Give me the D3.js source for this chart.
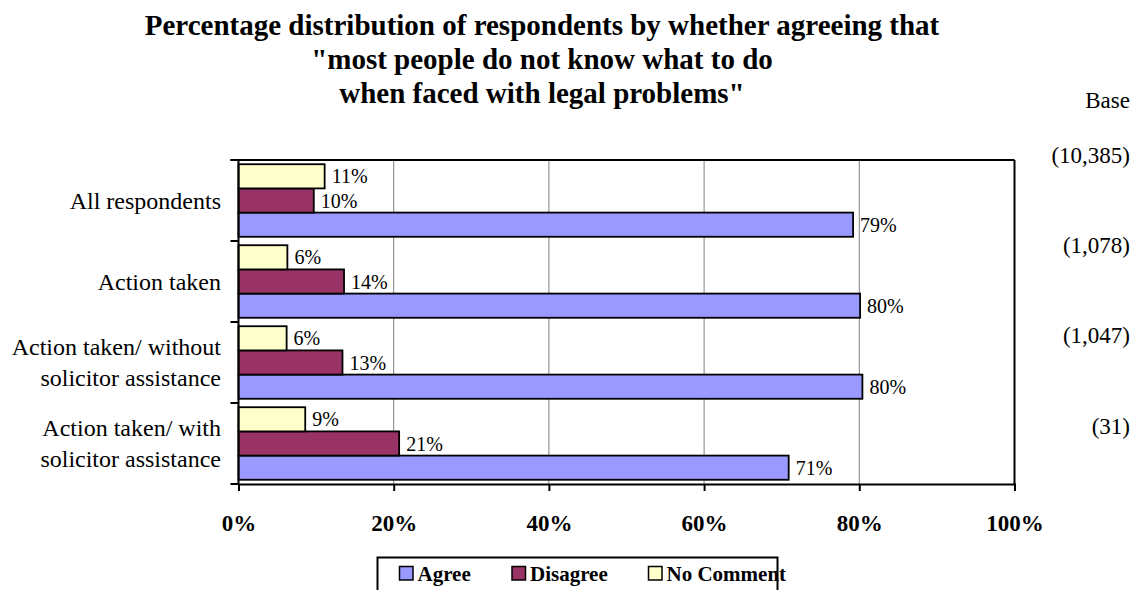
<!DOCTYPE html>
<html>
<head>
<meta charset="utf-8">
<script src="https://cdn.jsdelivr.net/npm/d3@7"></script>
<style>
  html, body { margin: 0; padding: 0; background: #fff; }
  svg { display: block; font-family: "Liberation Serif", "Times New Roman", serif; }
</style>
</head>
<body>
<svg id="chart" width="1138" height="590"></svg>
<script>
// ---- data ----
const categories = ["All respondents", "Action taken", "Action taken/ without solicitor assistance", "Action taken/ with solicitor assistance"];
const categoryLines = [["All respondents"], ["Action taken"], ["Action taken/ without", "solicitor assistance"], ["Action taken/ with", "solicitor assistance"]];
const seriesNames = ["Agree", "Disagree", "No Comment"];
const agree = [79.2, 80.1, 80.4, 70.9];
const disagree = [9.7, 13.6, 13.4, 20.7];
const noComment = [11.1, 6.3, 6.2, 8.6];
const bases = ["(10,385)", "(1,078)", "(1,047)", "(31)"];
const xTicks = [0, 20, 40, 60, 80, 100];
const titleLines = ["Percentage distribution of respondents by whether agreeing that", "\"most people do not know what to do", "when faced with legal problems\""];

const seriesValues = { "Agree": agree, "Disagree": disagree, "No Comment": noComment };
const colors = { "Agree": "#9999FF", "Disagree": "#993366", "No Comment": "#FFFFCC" };

// ---- layout ----
const svg = d3.select("#chart");
const pLeft = 238.5, pRight = 1014.5, pTop = 160, pBottom = 484;

const x = d3.scaleLinear().domain([0, 100]).range([pLeft, pRight]);
const y = d3.scaleBand().domain(categories).range([pTop, pBottom]).padding(0);
const inner = d3.scaleBand().domain(["No Comment", "Disagree", "Agree"])
  .range([0, y.bandwidth()]).paddingOuter(0.175).paddingInner(0);

// title
svg.append("g").selectAll("text").data(titleLines).join("text")
  .attr("x", 542).attr("y", (d, i) => 25 + i * 34)
  .attr("text-anchor", "middle").attr("dominant-baseline", "central")
  .attr("font-size", 29).attr("font-weight", "bold").text(d => d);

// Base header
svg.append("text").attr("x", 1130).attr("y", 100)
  .attr("text-anchor", "end").attr("dominant-baseline", "central")
  .attr("font-size", 23).text("Base");

const baseY = d3.scalePoint().domain(categories).range([155, 426]);
svg.append("g").selectAll("text").data(categories).join("text")
  .attr("x", 1130).attr("y", d => baseY(d))
  .attr("text-anchor", "end").attr("dominant-baseline", "central")
  .attr("font-size", 23).text((d, i) => bases[i]);

// gridlines
svg.append("g").selectAll("line").data(xTicks.filter(t => t > 0 && t < 100)).join("line")
  .attr("x1", d => x(d)).attr("x2", d => x(d)).attr("y1", pTop).attr("y2", pBottom)
  .attr("stroke", "#808080").attr("stroke-width", 1);

// bars
const groups = svg.append("g").selectAll("g").data(categories).join("g")
  .attr("transform", d => `translate(0,${y(d)})`);

groups.selectAll("rect").data((c, i) => seriesNames.map(s => ({ s, v: seriesValues[s][i] }))).join("rect")
  .attr("x", x(0)).attr("y", d => inner(d.s))
  .attr("width", d => x(d.v) - x(0)).attr("height", inner.bandwidth())
  .attr("fill", d => colors[d.s]).attr("stroke", "#000").attr("stroke-width", 1.8);

groups.selectAll("text.val").data((c, i) => seriesNames.map(s => ({ s, v: seriesValues[s][i] }))).join("text")
  .attr("class", "val")
  .attr("x", d => x(d.v) + 7).attr("y", d => inner(d.s) + inner.bandwidth() / 2)
  .attr("dominant-baseline", "central").attr("font-size", 20)
  .text(d => Math.round(d.v) + "%");

// plot frame: top and right
svg.append("line").attr("x1", pLeft - 8).attr("x2", pRight).attr("y1", pTop).attr("y2", pTop)
  .attr("stroke", "#000").attr("stroke-width", 2);
svg.append("line").attr("x1", pRight).attr("x2", pRight).attr("y1", pTop).attr("y2", pBottom)
  .attr("stroke", "#000").attr("stroke-width", 2);

// left axis with ticks at category boundaries
const boundaries = categories.map(c => y(c)).concat([pBottom]);
svg.append("line").attr("x1", pLeft).attr("x2", pLeft).attr("y1", pTop).attr("y2", pBottom)
  .attr("stroke", "#000").attr("stroke-width", 2);
svg.append("g").selectAll("line").data(boundaries).join("line")
  .attr("x1", pLeft - 8).attr("x2", pLeft).attr("y1", d => d).attr("y2", d => d)
  .attr("stroke", "#000").attr("stroke-width", 2);

// category labels
svg.append("g").selectAll("text").data(categories).join("text")
  .attr("text-anchor", "end").attr("font-size", 24)
  .each(function (c, i) {
    const lines = categoryLines[i];
    const cy = y(c) + y.bandwidth() / 2;
    const lh = 31;
    d3.select(this).selectAll("tspan").data(lines).join("tspan")
      .attr("x", 221)
      .attr("y", (d, j) => cy + (j - (lines.length - 1) / 2) * lh)
      .attr("dominant-baseline", "central")
      .text(d => d);
  });

// bottom axis
const xAxis = d3.axisBottom(x).tickValues(xTicks).tickSize(7).tickPadding(24)
  .tickFormat(d => d + "%");
const gx = svg.append("g").attr("transform", `translate(0,${pBottom})`).call(xAxis);
gx.select(".domain").attr("stroke", "#000").attr("stroke-width", 2);
gx.selectAll(".tick line").attr("stroke", "#000").attr("stroke-width", 2);
gx.selectAll(".tick text").attr("font-family", "Liberation Serif, serif")
  .attr("font-size", 23).attr("font-weight", "bold").attr("fill", "#000");

// legend
const legend = svg.append("g");
legend.append("rect").attr("x", 377.5).attr("y", 557.5).attr("width", 400).attr("height", 40)
  .attr("fill", "#fff").attr("stroke", "#000").attr("stroke-width", 2);
const legX = [399.5, 512, 648.5];
const items = legend.selectAll("g").data(seriesNames).join("g")
  .attr("transform", (d, i) => `translate(${legX[i]},566.5)`);
items.append("rect").attr("width", 13.5).attr("height", 13.5)
  .attr("fill", d => colors[d]).attr("stroke", "#000").attr("stroke-width", 1.5);
items.append("text").attr("x", 18).attr("y", 7.5).attr("dominant-baseline", "central")
  .attr("font-size", 21).attr("font-weight", "bold").text(d => d);
</script>
</body>
</html>
